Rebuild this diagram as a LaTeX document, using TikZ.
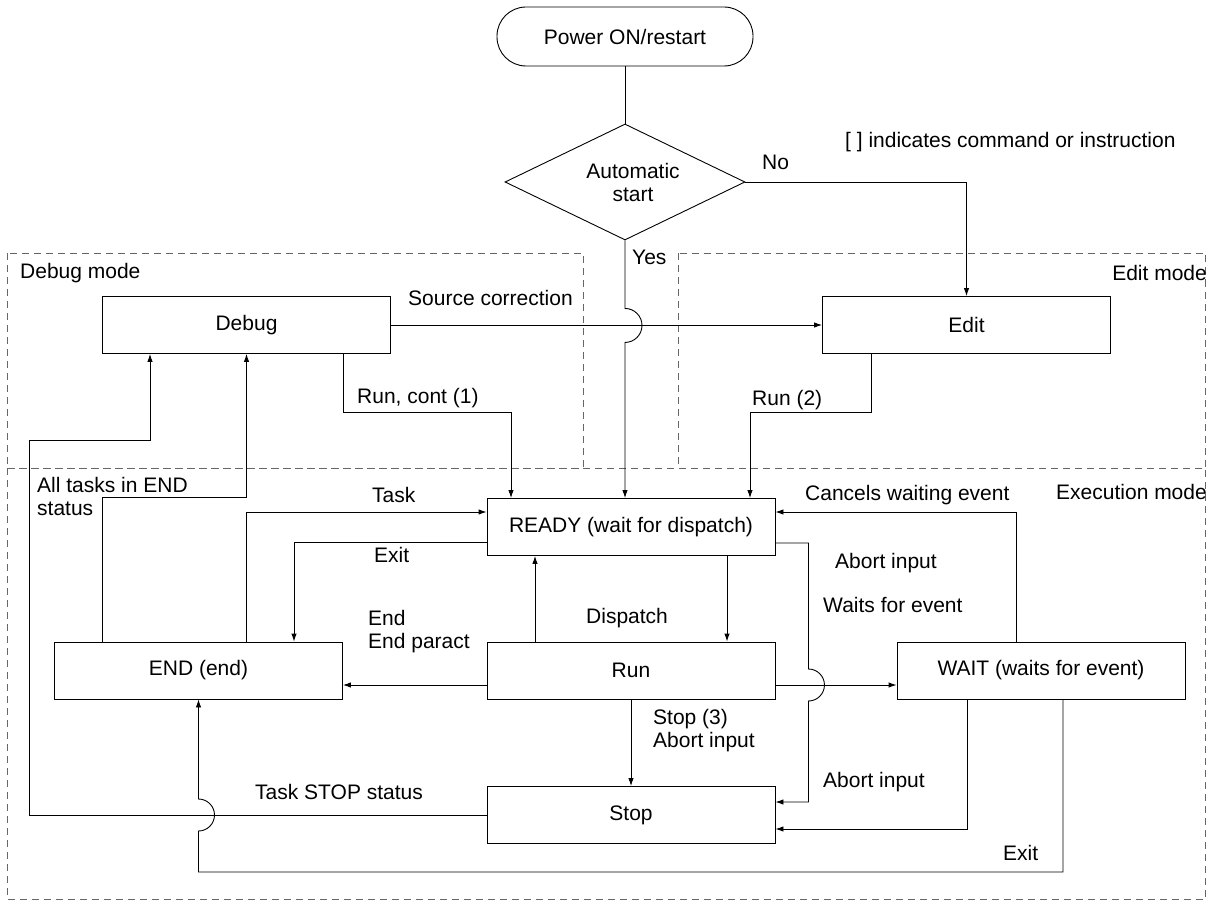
\documentclass[tikz,border=0pt]{standalone}
\usepackage{fontspec}
\setmainfont{Liberation Sans}
\usetikzlibrary{arrows.meta,positioning,shapes.geometric}

\begin{document}
\begin{tikzpicture}[
    x=1pt, y=-1pt,
    font=\fontsize{21}{23}\selectfont,
    stbox/.style={draw, line width=0.9pt, minimum width=288pt, minimum height=57pt, inner sep=0pt},
    terminal/.style={draw, line width=0.9pt, rounded corners=29pt, minimum width=256pt, minimum height=59pt},
    decision/.style={draw, diamond, line width=0.9pt, aspect=2.07, minimum width=240pt,
        minimum height=116pt, inner sep=0pt, align=center},
    conn/.style={line width=0.9pt},
    flow/.style={-{Latex[length=8pt,width=5.5pt]}, line width=0.9pt},
    zone/.style={draw=black!60, dash pattern=on 7pt off 5pt, line width=0.8pt},
    note/.style={anchor=west, inner sep=0pt, align=left}
]
    \useasboundingbox (0,0) rectangle (1207,901);

    % mode areas
    \draw[zone] (7,253) rectangle (583,468);
    \draw[zone] (678,253) rectangle (1205.5,468);
    \draw[zone] (7,468) rectangle (1205.5,899);
    \node[note] (debugmode) at (20,273) {Debug mode};
    \node[note, anchor=east] (editmode) at (1207,273) {Edit mode};
    \node[note, anchor=east] (execmode) at (1207,492) {Execution mode};

    % states
    \node[terminal] (power) at (625,36.5) {Power ON/restart};
    \node[decision] (auto) at (625,182) {\hspace*{16pt}Automatic\\\hspace*{16pt}start};
    \node[stbox] (debug) at (246.5,325) {Debug};
    \node[stbox] (edit) at (966.5,325) {Edit};
    \node[stbox] (ready) at (631,527) {READY (wait for dispatch)};
    \node[stbox] (run) at (631,670.5) {Run};
    \node[stbox] (stop) at (631,815) {Stop};
    \node[stbox] (end) at (198.5,670.5) {END (end)};
    \node[stbox] (wait) at (1041,670.5) {WAIT (waits for event)};
    \coordinate (exitbend) at (198.5,872);
    \coordinate (stopbend) at (29,440);

    % transitions
    \draw[conn] (power) -- (auto);
    \draw[flow] (auto.east) -| (edit.north);
    \draw[flow] (auto.south) -- ++(0,68) arc(-90:90:17) -- (auto.south |- ready.north);
    \draw[flow] (debug.east) -- (edit.west);
    \draw[flow] ([xshift=96.5pt]debug.south) -- ++(0,58) -| ([xshift=-120pt]ready.north);
    \draw[flow] ([xshift=-95.5pt]edit.south) -- ++(0,58) -| ([xshift=119pt]ready.north);
    \draw[flow] ([xshift=96pt]ready.south) -- ([xshift=96pt]run.north);
    \draw[flow] ([xshift=-96pt]run.north) -- ([xshift=-96pt]ready.south);
    \draw[flow] ([yshift=-14.5pt]run.west) -- ([yshift=-14.5pt]end.east);
    \draw[flow] ([yshift=-14.5pt]run.east) -- ([yshift=-14.5pt]wait.west);
    \draw[flow] (run.south) -- (stop.north);
    \draw[flow] ([yshift=-16pt]ready.east) -- ++(33,0) -- ++(0,126) arc(-90:90:16)
        |- ([yshift=13pt]stop.east);
    \draw[flow] ([xshift=-25pt]wait.north) |- ([yshift=15pt]ready.east);
    \draw[flow] ([xshift=-74pt]wait.south) |- ([yshift=-14pt]stop.east);
    \draw[flow] ([xshift=22pt]wait.south) |- (exitbend) -- ++(0,-41) arc(90:-90:16) -- (end.south);
    \draw[flow] (stop.west) -| (stopbend) -| ([xshift=-96.5pt]debug.south);
    \draw[flow] ([xshift=-96.5pt]end.north) -- ++(0,-144) -| (debug.south);
    \draw[flow] ([xshift=48pt]end.north) |- ([yshift=15pt]ready.west);
    \draw[flow] ([yshift=-15pt]ready.west) -| ([xshift=95.5pt]end.north);

    % labels
    \node[note] (l-cmd) at (845,142) {[ ] indicates command or instruction};
    \node[note] (l-no) at (762,162) {No};
    \node[note] (l-yes) at (632,257) {Yes};
    \node[note] (l-src) at (408,298) {Source correction};
    \node[note] (l-run1) at (357,398) {Run, cont (1)};
    \node[note] (l-run2) at (752,400) {Run (2)};
    \node[note] (l-alltasks) at (37,496.5) {All tasks in END\\status};
    \node[note] (l-task) at (372,495) {Task};
    \node[note] (l-exit1) at (374,555) {Exit};
    \node[note] (l-cancel) at (805,495) {Cancels waiting event};
    \node[note] (l-abort1) at (835,563) {Abort input};
    \node[note] (l-waits) at (823,605) {Waits for event};
    \node[note] (l-dispatch) at (586,618) {Dispatch};
    \node[note] (l-end) at (368,631.5) {End\\End paract};
    \node[note] (l-stop3) at (653,730.5) {Stop (3)\\Abort input};
    \node[note] (l-taskstop) at (255,792) {Task STOP status};
    \node[note] (l-abort2) at (823,782) {Abort input};
    \node[note] (l-exit2) at (1003,853) {Exit};
\end{tikzpicture}
\end{document}
